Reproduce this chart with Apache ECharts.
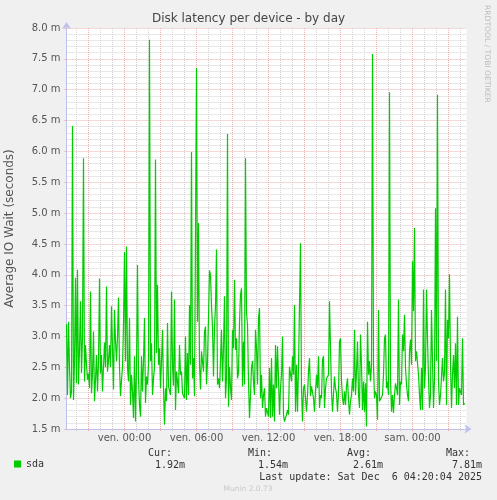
<!DOCTYPE html>
<html><head><meta charset="utf-8">
<script src="https://cdn.jsdelivr.net/npm/echarts@6/dist/echarts.min.js"></script>
<style>html,body{margin:0;padding:0;background:#f0f0f0;}#c{width:497px;height:500px;}</style>
</head><body><div id="c"></div>
<script>
// minutes relative to "ven. 00:00"; one sample every 5 minutes
const startMinute = -290;
const stepMinutes = 5;
const sdaValues = [
 3.2,2.05,3.24,2.5,2.0,2.1,6.41,1.97,2.6,3.95,
 2.24,4.08,2.22,2.8,3.57,2.41,3.0,5.89,2.27,2.86,
 2.54,2.3,2.4,2.16,3.73,2.08,2.4,3.08,1.95,2.3,
 2.70,2.11,2.6,3.94,2.4,2.7,2.11,2.5,2.9,2.5,
 3.81,2.43,2.6,2.86,2.5,3.49,2.8,2.14,3.43,2.92,
 2.6,3.0,3.63,2.5,2.03,2.3,2.49,3.2,4.37,
 2.6,4.46,2.5,2.27,3.30,1.89,2.38,2.1,1.68,2.68,
 1.62,2.5,4.16,2.32,1.89,1.70,2.68,2.11,2.6,3.30,
 1.92,2.35,2.22,2.54,7.81,2.6,2.89,2.05,2.32,2.5,
 5.87,2.73,3.84,2.54,2.81,2.16,2.6,3.11,2.16,1.57,
 2.16,1.95,3.22,2.19,2.16,2.05,3.73,2.54,2.2,3.60,
 1.81,2.43,2.27,2.08,2.86,2.38,2.43,2.08,
 2.08,2.0,3.0,1.97,2.73,2.05,3.51,2.54,5.99,2.32,
 2.65,2.03,2.0,7.35,3.24,4.84,2.54,2.14,2.76,2.78,
 2.43,3.08,3.16,2.22,2.6,3.3,4.07,4.0,3.51,3.14,
 2.35,3.14,3.5,4.41,2.22,2.32,2.16,2.6,3.11,2.27,
 2.81,3.65,2.0,2.32,6.28,1.86,2.51,2.16,1.97,3.11,
 2.81,3.92,2.78,2.97,2.32,2.41,3.22,3.68,
 3.78,2.19,2.92,2.22,5.89,3.38,3.19,2.27,1.68,2.05,
 2.49,2.6,2.27,2.05,3.11,2.81,2.22,3.3,3.46,2.0,
 2.38,1.84,2.05,2.16,1.70,1.84,1.84,1.70,2.49,1.68,
 2.65,1.70,2.22,1.62,2.86,2.16,2.84,2.32,1.73,2.16,
 2.38,3.0,1.73,1.62,1.68,1.73,1.81,1.73,2.51,2.51,
 2.27,2.68,2.38,3.51,1.78,2.54,1.78,2.5,
 2.51,4.51,2.14,1.62,2.16,2.22,2.0,1.78,2.05,2.43,
 2.65,2.03,2.19,2.16,2.0,1.78,2.11,2.38,2.16,2.68,
 1.84,2.05,2.0,2.62,2.68,1.84,2.16,2.32,2.32,2.38,
 3.57,2.81,2.11,1.78,1.76,2.35,2.16,2.08,1.78,2.08,
 2.92,2.97,2.27,2.0,1.89,2.11,1.89,2.19,2.32,1.97,
 1.73,1.95,2.05,2.32,2.11,3.11,2.05,2.43,
 2.92,2.05,1.84,3.03,2.54,1.81,2.27,1.78,2.24,1.54,
 3.24,2.38,2.6,2.27,2.54,7.58,2.54,2.0,2.11,2.05,
 1.65,3.43,1.95,1.92,1.97,2.05,2.38,2.97,3.03,2.16,
 2.27,2.05,6.96,2.32,1.78,2.05,1.76,2.05,2.24,2.16,
 2.05,3.6,1.89,2.27,2.22,3.03,2.76,3.35,2.49,2.22,
 2.05,1.95,2.76,2.95,2.54,4.22,3.41,4.76,
 2.6,2.76,2.73,2.38,2.05,1.81,2.49,1.81,3.76,2.16,
 2.5,3.76,2.97,2.32,1.84,2.05,3.43,2.6,1.84,2.32,
 5.08,2.6,6.92,2.27,1.89,2.05,2.05,2.65,2.27,2.41,
 3.76,1.89,3.27,2.97,4.01,2.54,1.84,2.38,2.70,2.16,
 2.89,1.89,3.32,1.89,2.16,2.16,2.05,2.97,1.89,1.92
];
const axisMinMinute = -290;
const axisMaxMinute = 1710;
const timeTickMinutes = [0, 360, 720, 1080, 1440];
const timeTickLabels = ['ven. 00:00', 'ven. 06:00', 'ven. 12:00', 'ven. 18:00', 'sam. 00:00'];
const majorGridMinutes = [-180, 0, 180, 360, 540, 720, 900, 1080, 1260, 1440, 1620];
const minorGridMinutes = [-240, -120, -60, 60, 120, 240, 300, 420, 480, 600, 660, 780, 840, 960, 1020, 1140, 1200, 1320, 1380, 1500, 1560, 1680];
const yMin = 1.5, yMax = 8.0, yStep = 0.5;
const statLabels = ['Cur:', 'Min:', 'Avg:', 'Max:'];
const statValues = ['1.92m', '1.54m', '2.61m', '7.81m'];
const lastUpdate = 'Last update: Sat Dec  6 04:20:04 2025';

const seriesData = sdaValues.map((v, i) => [startMinute + i * stepMinutes, v]);
const labelFont = 'DejaVu Sans';
const mono = '"DejaVu Sans Mono", monospace';
const red = '#ebb0b0', grey = '#d0d0d0', axisCol = '#c0c0ee';

const statLabelRight = [172, 272, 371, 470];
const statValueRight = [185, 288, 383, 482];
const graphics = [];
statLabels.forEach((t, i) => graphics.push({type:'text', x: statLabelRight[i], y: 453, style:{text:t, font:'10px ' + mono, fill:'#333', align:'right', verticalAlign:'middle'}}));
statValues.forEach((t, i) => graphics.push({type:'text', x: statValueRight[i], y: 465, style:{text:t, font:'10px ' + mono, fill:'#333', align:'right', verticalAlign:'middle'}}));
graphics.push({type:'text', x: 482, y: 477, style:{text:lastUpdate, font:'10px ' + mono, fill:'#333', align:'right', verticalAlign:'middle'}});
graphics.push({type:'text', x: 248, y: 489, style:{text:'Munin 2.0.73', font:'7.5px ' + labelFont, fill:'#c8c8c8', align:'center', verticalAlign:'middle'}});
graphics.push({type:'text', x: 487, y: 5, rotation: -Math.PI/2, style:{text:'RRDTOOL / TOBI OETIKER', font:'7.6px ' + labelFont, fill:'#bcbcbc', align:'left', verticalAlign:'middle'}});

const chart = echarts.init(document.getElementById('c'), null, {renderer:'canvas'});
chart.setOption({
  animation: false,
  backgroundColor: '#f0f0f0',
  title: {text:'Disk latency per device - by day', left:'center', top: 13, padding:0,
    textStyle:{fontFamily:labelFont, fontSize:12, fontWeight:'normal', color:'#444'}},
  grid: {left: 66.5, right: 30.5, top: 28, bottom: 71, show: true, backgroundColor:'#ffffff', borderWidth: 0,
    containLabel: false, outerBoundsMode: 'none'},
  legend: {data:['sda'], left: 14, top: 459, padding: 0, icon:'rect', itemWidth: 7, itemHeight: 7,
    textStyle:{fontFamily:mono, fontSize:10, color:'#333'}},
  xAxis: [{
    type:'value', min: axisMinMinute, max: axisMaxMinute,
    axisLine:{show:true, onZero:false, lineStyle:{color:axisCol, width:1}, symbol:['none','arrow'], symbolSize:[7,7], symbolOffset:[0,5]},
    axisTick:{show:true, length:2, customValues: majorGridMinutes, lineStyle:{color:red}},
    axisLabel:{customValues: timeTickMinutes, margin:4, fontFamily:labelFont, fontSize:10, color:'#555',
      formatter: v => { const k = timeTickMinutes.indexOf(v); return k >= 0 ? timeTickLabels[k] : ''; }},
    splitLine:{show:true, lineStyle:{color:red, type:[1,1], width:1}}
  }, {
    type:'value', min: axisMinMinute, max: axisMaxMinute, gridIndex:0, position:'bottom',
    axisLine:{show:false, onZero:false}, axisLabel:{show:false},
    axisTick:{show:true, length:2, customValues: minorGridMinutes, lineStyle:{color:grey}},
    splitLine:{show:true, lineStyle:{color:grey, type:[1,1], width:1}}
  }],
  yAxis: {
    type:'value', min:yMin, max:yMax, interval:yStep,
    name:'Average IO Wait (seconds)', nameLocation:'middle', nameGap:51, nameRotate:90,
    nameTextStyle:{fontFamily:labelFont, fontSize:12, color:'#555'},
    axisLine:{show:true, onZero:false, lineStyle:{color:axisCol, width:1}, symbol:['none','arrow'], symbolSize:[7,7], symbolOffset:[0,6]},
    axisTick:{show:true, length:2, lineStyle:{color:red}},
    axisLabel:{margin:6, fontFamily:labelFont, fontSize:10, color:'#555', formatter: v => v.toFixed(1) + ' m'},
    splitLine:{show:true, lineStyle:{color:red, type:[1,1], width:1}},
    minorTick:{show:false, splitNumber:5},
    minorSplitLine:{show:true, lineStyle:{color:grey, type:[1,1], width:1}}
  },
  series: [{
    name:'sda', type:'line', xAxisIndex:0, data: seriesData, showSymbol:false, symbol:'none',
    lineStyle:{color:'#00cc00', width:1.2}, itemStyle:{color:'#00cc00'}, z:5
  }],
  graphic: graphics
});
</script></body></html>
